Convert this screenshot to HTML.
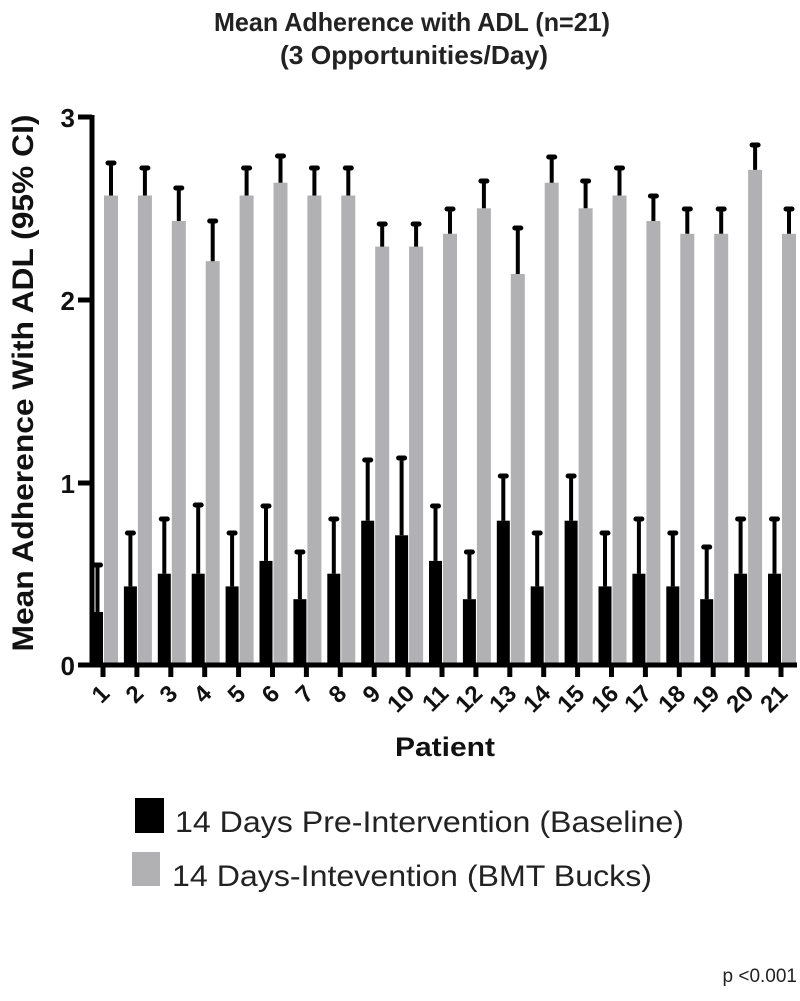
<!DOCTYPE html>
<html><head><meta charset="utf-8"><style>
html,body{margin:0;padding:0;background:#fff;}
svg{display:block;font-family:"Liberation Sans",Arial,sans-serif;}
</style></head><body>
<svg width="800" height="1001" viewBox="0 0 800 1001" xmlns="http://www.w3.org/2000/svg">
<text x="412" y="31" font-size="26" font-weight="bold" text-anchor="middle" fill="#222" textLength="396" lengthAdjust="spacingAndGlyphs">Mean Adherence with ADL (n=21)</text>
<text x="414" y="64" font-size="26" font-weight="bold" text-anchor="middle" fill="#222" textLength="268" lengthAdjust="spacingAndGlyphs">(3 Opportunities/Day)</text>
<text transform="translate(33,383) rotate(-90)" font-size="30" font-weight="bold" text-anchor="middle" fill="#111" textLength="537" lengthAdjust="spacingAndGlyphs">Mean Adherence With ADL (95% CI)</text>
<g fill="#b1b1b4">
<rect x="104" y="195.5" width="14" height="469.5"/>
<rect x="137.9" y="195.5" width="14" height="469.5"/>
<rect x="171.8" y="221" width="14" height="444"/>
<rect x="205.7" y="261.2" width="14" height="403.8"/>
<rect x="239.6" y="195.5" width="14" height="469.5"/>
<rect x="273.5" y="182.7" width="14" height="482.3"/>
<rect x="307.4" y="195.5" width="14" height="469.5"/>
<rect x="341.3" y="195.5" width="14" height="469.5"/>
<rect x="375.2" y="246.6" width="14" height="418.4"/>
<rect x="409.1" y="246.6" width="14" height="418.4"/>
<rect x="443" y="233.8" width="14" height="431.2"/>
<rect x="476.9" y="208.3" width="14" height="456.7"/>
<rect x="510.8" y="274" width="14" height="391"/>
<rect x="544.7" y="182.7" width="14" height="482.3"/>
<rect x="578.6" y="208.3" width="14" height="456.7"/>
<rect x="612.5" y="195.5" width="14" height="469.5"/>
<rect x="646.4" y="221" width="14" height="444"/>
<rect x="680.3" y="233.8" width="14" height="431.2"/>
<rect x="714.2" y="233.8" width="14" height="431.2"/>
<rect x="748.1" y="169.9" width="14" height="495.1"/>
<rect x="782" y="233.8" width="14" height="431.2"/>
</g>
<g stroke="#000" stroke-width="4" fill="none">
<path d="M111 195.5V163M144.9 195.5V168M178.8 221V188M212.7 261.2V221M246.6 195.5V168M280.5 182.7V156M314.4 195.5V168M348.3 195.5V168M382.2 246.6V224M416.1 246.6V224M450 233.8V209M483.9 208.3V181M517.8 274V228M551.7 182.7V157M585.6 208.3V181M619.5 195.5V168M653.4 221V196M687.3 233.8V209M721.2 233.8V209M755.1 169.9V145M789 233.8V209"/>
</g>
<g stroke="#000" stroke-width="5" stroke-linecap="round">
<path d="M108 163h6M141.9 168h6M175.8 188h6M209.7 221h6M243.6 168h6M277.5 156h6M311.4 168h6M345.3 168h6M379.2 224h6M413.1 224h6M447 209h6M480.9 181h6M514.8 228h6M548.7 157h6M582.6 181h6M616.5 168h6M650.4 196h6M684.3 209h6M718.2 209h6M752.1 145h6M786 209h6"/>
</g>
<g fill="#000">
<rect x="90" y="612" width="13" height="53"/>
<rect x="123.9" y="586.4" width="13" height="78.6"/>
<rect x="157.8" y="573.7" width="13" height="91.3"/>
<rect x="191.7" y="573.7" width="13" height="91.3"/>
<rect x="225.6" y="586.4" width="13" height="78.6"/>
<rect x="259.5" y="560.9" width="13" height="104.1"/>
<rect x="293.4" y="599.2" width="13" height="65.8"/>
<rect x="327.3" y="573.7" width="13" height="91.3"/>
<rect x="361.2" y="520.7" width="13" height="144.3"/>
<rect x="395.1" y="535.3" width="13" height="129.7"/>
<rect x="429" y="560.9" width="13" height="104.1"/>
<rect x="462.9" y="599.2" width="13" height="65.8"/>
<rect x="496.8" y="520.7" width="13" height="144.3"/>
<rect x="530.7" y="586.4" width="13" height="78.6"/>
<rect x="564.6" y="520.7" width="13" height="144.3"/>
<rect x="598.5" y="586.4" width="13" height="78.6"/>
<rect x="632.4" y="573.7" width="13" height="91.3"/>
<rect x="666.3" y="586.4" width="13" height="78.6"/>
<rect x="700.2" y="599.2" width="13" height="65.8"/>
<rect x="734.1" y="573.7" width="13" height="91.3"/>
<rect x="768" y="573.7" width="13" height="91.3"/>
</g>
<g stroke="#000" stroke-width="4" fill="none">
<path d="M97.5 612V565M130.4 586.4V533M164.3 573.7V519M198.2 573.7V505M232.1 586.4V533M266 560.9V506M299.9 599.2V552M333.8 573.7V519M367.7 520.7V460M401.6 535.3V458M435.5 560.9V506M469.4 599.2V552M503.3 520.7V476M537.2 586.4V533M571.1 520.7V476M605 586.4V533M638.9 573.7V519M672.8 586.4V533M706.7 599.2V547M740.6 573.7V519M774.5 573.7V519"/>
</g>
<g stroke="#000" stroke-width="5" stroke-linecap="round">
<path d="M94.5 565h6M127.4 533h6M161.3 519h6M195.2 505h6M229.1 533h6M263 506h6M296.9 552h6M330.8 519h6M364.7 460h6M398.6 458h6M432.5 506h6M466.4 552h6M500.3 476h6M534.2 533h6M568.1 476h6M602 533h6M635.9 519h6M669.8 533h6M703.7 547h6M737.6 519h6M771.5 519h6"/>
</g>
<g stroke="#000" stroke-width="5">
<line x1="92" y1="115" x2="92" y2="667"/>
<line x1="78" y1="665" x2="797" y2="665"/>
<line x1="78" y1="117" x2="92" y2="117"/>
<line x1="78" y1="300" x2="92" y2="300"/>
<line x1="78" y1="483" x2="92" y2="483"/>
<path d="M103 665v12M136.9 665v12M170.8 665v12M204.7 665v12M238.6 665v12M272.5 665v12M306.4 665v12M340.3 665v12M374.2 665v12M408.1 665v12M442 665v12M475.9 665v12M509.8 665v12M543.7 665v12M577.6 665v12M611.5 665v12M645.4 665v12M679.3 665v12M713.2 665v12M747.1 665v12M781 665v12"/>
</g>
<g font-size="26" font-weight="bold" text-anchor="end" fill="#111">
<text x="75" y="127">3</text>
<text x="75" y="310">2</text>
<text x="75" y="493">1</text>
<text x="75" y="675">0</text>
</g>
<g font-size="24" font-weight="bold" text-anchor="end" fill="#111">
<text transform="translate(111,695) rotate(-45)">1</text>
<text transform="translate(145,695) rotate(-45)">2</text>
<text transform="translate(179,695) rotate(-45)">3</text>
<text transform="translate(213,695) rotate(-45)">4</text>
<text transform="translate(247,695) rotate(-45)">5</text>
<text transform="translate(281,695) rotate(-45)">6</text>
<text transform="translate(315,695) rotate(-45)">7</text>
<text transform="translate(348,695) rotate(-45)">8</text>
<text transform="translate(382,695) rotate(-45)">9</text>
<text transform="translate(416,695) rotate(-45)">10</text>
<text transform="translate(450,695) rotate(-45)">11</text>
<text transform="translate(484,695) rotate(-45)">12</text>
<text transform="translate(518,695) rotate(-45)">13</text>
<text transform="translate(552,695) rotate(-45)">14</text>
<text transform="translate(586,695) rotate(-45)">15</text>
<text transform="translate(620,695) rotate(-45)">16</text>
<text transform="translate(653,695) rotate(-45)">17</text>
<text transform="translate(687,695) rotate(-45)">18</text>
<text transform="translate(721,695) rotate(-45)">19</text>
<text transform="translate(755,695) rotate(-45)">20</text>
<text transform="translate(789,695) rotate(-45)">21</text>
</g>
<text x="445" y="756" font-size="27" font-weight="bold" text-anchor="middle" fill="#111" textLength="100" lengthAdjust="spacingAndGlyphs">Patient</text>
<rect x="135" y="798" width="29" height="35" fill="#000"/>
<rect x="132" y="852" width="28" height="34" fill="#b1b1b4"/>
<text x="175" y="832" font-size="30" fill="#222" textLength="509" lengthAdjust="spacingAndGlyphs">14 Days Pre-Intervention (Baseline)</text>
<text x="172" y="886" font-size="30" fill="#222" textLength="480" lengthAdjust="spacingAndGlyphs">14 Days-Intevention (BMT Bucks)</text>
<text x="797" y="982" font-size="19" fill="#222" text-anchor="end">p &lt;0.001</text>
</svg>
</body></html>
